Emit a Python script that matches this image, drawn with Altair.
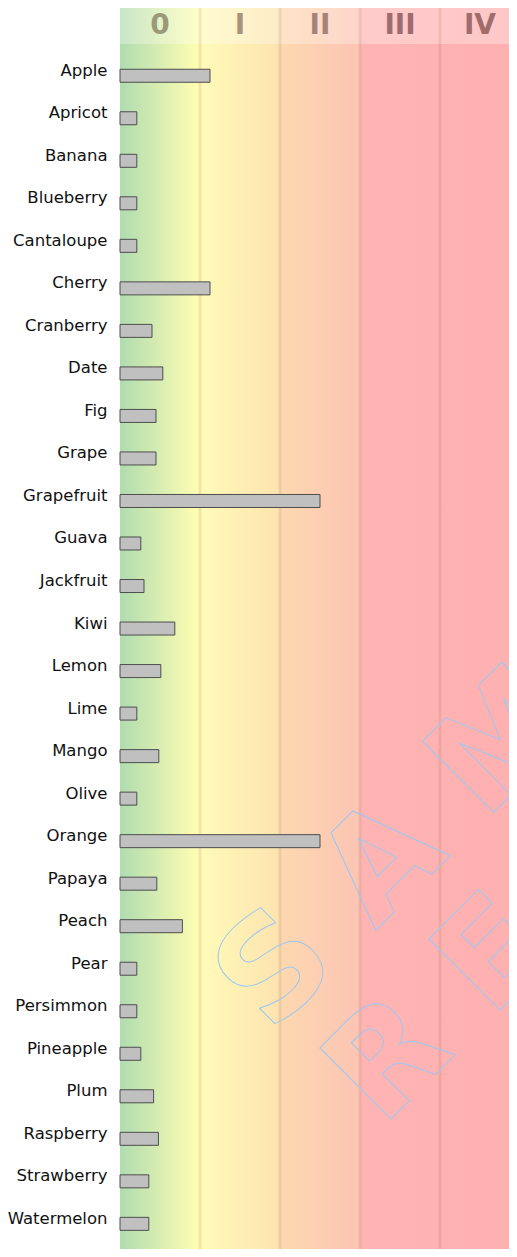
import altair as alt
import pandas as pd

# ---- data -------------------------------------------------------------
fruits = ["Apple", "Apricot", "Banana", "Blueberry", "Cantaloupe", "Cherry",
          "Cranberry", "Date", "Fig", "Grape", "Grapefruit", "Guava",
          "Jackfruit", "Kiwi", "Lemon", "Lime", "Mango", "Olive", "Orange",
          "Papaya", "Peach", "Pear", "Persimmon", "Pineapple", "Plum",
          "Raspberry", "Strawberry", "Watermelon"]
values = [1.125, 0.21, 0.21, 0.21, 0.21, 1.125,
          0.40, 0.535, 0.45, 0.45, 2.5, 0.26,
          0.30, 0.685, 0.51, 0.21, 0.485, 0.21, 2.5,
          0.46, 0.78, 0.21, 0.21, 0.26, 0.42,
          0.48, 0.36, 0.36]

zone_labels = ["0", "I", "II", "III", "IV"]
zone_mid = [0.5, 1.5, 2.5, 3.5, 4.5]
zone_colors = ["#9a9a78", "#a8927a", "#a48478", "#9e6c6c", "#a06c6c"]
dividers = [1, 2, 3, 4]
watermark_lines = ["S A M P L E", "R E P O R T"]

# ---- layout constants --------------------------------------------------
W = 389          # plot width (80 px per zone)
H = 1205         # plot height
HEADER = 36      # header band above the plot
X_MAX = W / 80.0

bars_df = pd.DataFrame({"fruit": fruits, "value": values})
zones_df = pd.DataFrame({"label": zone_labels, "mid": zone_mid})
div_df = pd.DataFrame({"d": dividers})
bg_df = pd.DataFrame({"x0": [0.0], "x1": [X_MAX]})
wm_df = pd.DataFrame({"t": watermark_lines, "px": [122, 233], "py": [962, 1055]})

xscale = alt.Scale(domain=[0, X_MAX], nice=False, zero=True)

def off(px):
    return px / W

gradient = alt.LinearGradient(
    gradient="linear", x1=0, y1=0, x2=1, y2=0,
    stops=[
        alt.GradientStop(offset=0, color="#b0dcb0"),
        alt.GradientStop(offset=off(76), color="#fdfdb2"),
        alt.GradientStop(offset=off(80), color="#fffbb8"),
        alt.GradientStop(offset=off(159), color="#fde3b0"),
        alt.GradientStop(offset=off(161), color="#fdd8b0"),
        alt.GradientStop(offset=off(239), color="#fcc4b4"),
        alt.GradientStop(offset=off(241), color="#ffb4b4"),
        alt.GradientStop(offset=1, color="#ffb0b0"),
    ],
)

background = alt.Chart(bg_df).mark_rect(color=gradient).encode(
    x=alt.X("x0:Q", scale=xscale, axis=None),
    x2="x1:Q",
    y=alt.value(-HEADER),
    y2=alt.value(H),
)

header_veil = alt.Chart(bg_df).mark_rect(color="white", opacity=0.3).encode(
    x=alt.X("x0:Q", scale=xscale, axis=None),
    x2="x1:Q",
    y=alt.value(-HEADER),
    y2=alt.value(0),
)

rules = alt.Chart(div_df).mark_rule(color="#7a5a3a", strokeWidth=3, opacity=0.12).encode(
    x=alt.X("d:Q", scale=xscale, axis=None),
    y=alt.value(-HEADER),
    y2=alt.value(H),
)

header_text = alt.Chart(zones_df).mark_text(
    font="DejaVu Sans", fontWeight="bold", fontSize=28,
    align="center", baseline="middle",
).encode(
    x=alt.X("mid:Q", scale=xscale, axis=None),
    y=alt.value(-18),
    text="label:N",
    color=alt.Color("label:N", scale=alt.Scale(domain=zone_labels, range=zone_colors), legend=None),
)

watermark = alt.Chart(wm_df).mark_text(
    font="DejaVu Sans", fontWeight="bold", fontSize=138,
    align="left", baseline="middle", angle=315,
    fillOpacity=0, stroke="#9cc8f0", strokeWidth=1,
).encode(
    x=alt.X("px:Q", scale=None),
    y=alt.Y("py:Q", scale=None),
    text="t:N",
)

bars = alt.Chart(bars_df).mark_bar(
    fill="#c0c0c0", stroke="#4d4d4d", strokeWidth=1, size=13,
).encode(
    x=alt.X("value:Q", scale=xscale, axis=None),
    y=alt.Y(
        "fruit:N", sort=fruits,
        scale=alt.Scale(paddingInner=0, paddingOuter=0.169, align=0.73),
        axis=alt.Axis(
            title=None, domain=False, ticks=False,
            labelFont="DejaVu Sans", labelFontSize=16.5, labelColor="#111111",
            labelBaseline="alphabetic", labelPadding=13, labelLimit=200,
        ),
    ),
)

chart = alt.layer(background, header_veil, rules, header_text, watermark, bars).properties(
    width=W, height=H,
    autosize=alt.AutoSizeParams(type="none"),
    padding={"left": 112, "top": HEADER, "right": 0, "bottom": 0},
    background="white",
).configure_view(strokeWidth=0)

chart.save("out.html", embed_options={"renderer": "svg", "actions": False})
